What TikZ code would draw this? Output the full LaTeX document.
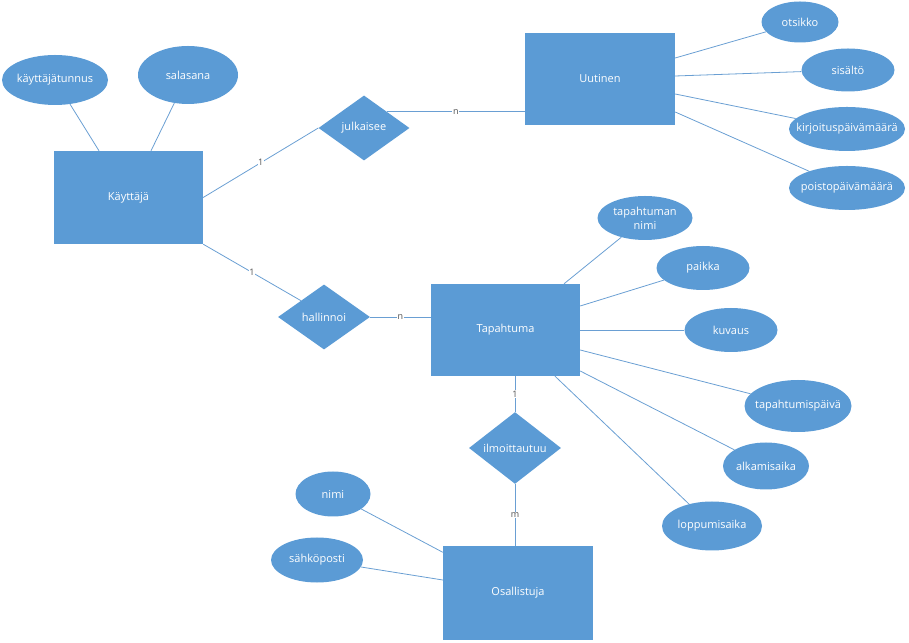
\documentclass[tikz,border=0pt]{standalone}
\usepackage{fontspec}
\setmainfont{Open Sans}
\usetikzlibrary{shapes.geometric,calc}
\definecolor{erblue}{HTML}{5B9BD5}
\definecolor{erline}{HTML}{6A9FD3}
\definecolor{ergray}{HTML}{505050}

\begin{document}
\begin{tikzpicture}[x=1pt,y=1pt,
  every node/.style={font=\fontsize{11}{14}\selectfont,align=center,text=white,inner sep=0pt},
  entity/.style={rectangle,fill=erblue},
  attr/.style={ellipse,fill=erblue,inner xsep=-16pt},
  relation/.style={diamond,fill=erblue},
  link/.style={draw=erline,line width=0.8pt},
  card/.style={font=\fontsize{9}{10}\selectfont,text=ergray,fill=white,inner sep=0.6pt}]
  \useasboundingbox (0,0) rectangle (909,642);

  % entities
  \node[entity,minimum width=149,minimum height=93] (kayttaja) at (128.5,444.5) {Käyttäjä};
  \node[entity,minimum width=150,minimum height=92] (uutinen) at (600,563) {Uutinen};
  \node[entity,minimum width=149,minimum height=92] (tapahtuma) at (505.5,312) {Tapahtuma};
  \node[entity,minimum width=150,minimum height=93] (osallistuja) at (518,49) {Osallistuja};

  % relations
  \node[relation,minimum width=91,minimum height=65] (julkaisee) at (364,514) {julkaisee};
  \node[relation,minimum width=92,minimum height=65] (hallinnoi) at (324,325) {hallinnoi};
  \node[relation,minimum width=92,minimum height=65] (ilmoittautuu) at (515,194) {ilmoittautuu};

  % attributes
  \node[attr,minimum width=106,minimum height=50] (tunnus) at (55,562) {käyttäjätunnus};
  \node[attr,minimum width=100,minimum height=58] (salasana) at (188,567) {salasana};
  \node[attr,minimum width=77,minimum height=41] (otsikko) at (800,620) {otsikko};
  \node[attr,minimum width=93,minimum height=43] (sisalto) at (848,572) {sisältö};
  \node[attr,minimum width=116,minimum height=44] (kirjpvm) at (847,513) {kirjoituspäivämäärä};
  \node[attr,minimum width=116,minimum height=44] (poistopvm) at (847,454) {poistopäivämäärä};
  \node[attr,minimum width=95,minimum height=44] (tnimi) at (645,424) {tapahtuman\\nimi};
  \node[attr,minimum width=93,minimum height=44] (paikka) at (703,374) {paikka};
  \node[attr,minimum width=93,minimum height=44] (kuvaus) at (731,312) {kuvaus};
  \node[attr,minimum width=107,minimum height=52] (tpaiva) at (798,236) {tapahtumispäivä};
  \node[attr,minimum width=86,minimum height=47] (alkaa) at (766,176) {alkamisaika};
  \node[attr,minimum width=100,minimum height=49] (loppuu) at (712,116) {loppumisaika};
  \node[attr,minimum width=75,minimum height=45] (nimi) at (333,148) {nimi};
  \node[attr,minimum width=92,minimum height=45] (sposti) at (317,82) {sähköposti};

  % attribute links
  \draw[link] ([xshift=-29.5]kayttaja.north) -- (tunnus);
  \draw[link] ([xshift=22.5]kayttaja.north) -- (salasana);
  \draw[link] ([yshift=21]uutinen.east) -- (otsikko);
  \draw[link] ([yshift=3]uutinen.east) -- (sisalto);
  \draw[link] ([yshift=-15]uutinen.east) -- (kirjpvm);
  \draw[link] ([yshift=-33]uutinen.east) -- (poistopvm);
  \draw[link] ([xshift=58.5]tapahtuma.north) -- (tnimi);
  \draw[link] ([yshift=24]tapahtuma.east) -- (paikka);
  \draw[link] (tapahtuma.east) -- (kuvaus);
  \draw[link] ([yshift=-20]tapahtuma.east) -- (tpaiva);
  \draw[link] ([yshift=-41]tapahtuma.east) -- (alkaa);
  \draw[link] ([xshift=49.5]tapahtuma.south) -- (loppuu);
  \draw[link] ([yshift=-6]osallistuja.north west) -- (nimi);
  \draw[link] ([yshift=13]osallistuja.west) -- (sposti);

  % relation links
  \draw[link] (kayttaja.east) -- node[card]{1} (julkaisee.west);
  \draw[link] (julkaisee.north east) -- node[card]{n} (julkaisee.north east -| uutinen.west);
  \draw[link] (kayttaja.south east) -- node[card]{1} (hallinnoi.north west);
  \draw[link] (hallinnoi.east) -- node[card]{n} (hallinnoi.east -| tapahtuma.west);
  \draw[link] (ilmoittautuu.north) -- node[card]{1} (ilmoittautuu.north |- tapahtuma.south);
  \draw[link] (ilmoittautuu.south) -- node[card]{m} (ilmoittautuu.south |- osallistuja.north);
\end{tikzpicture}
\end{document}
